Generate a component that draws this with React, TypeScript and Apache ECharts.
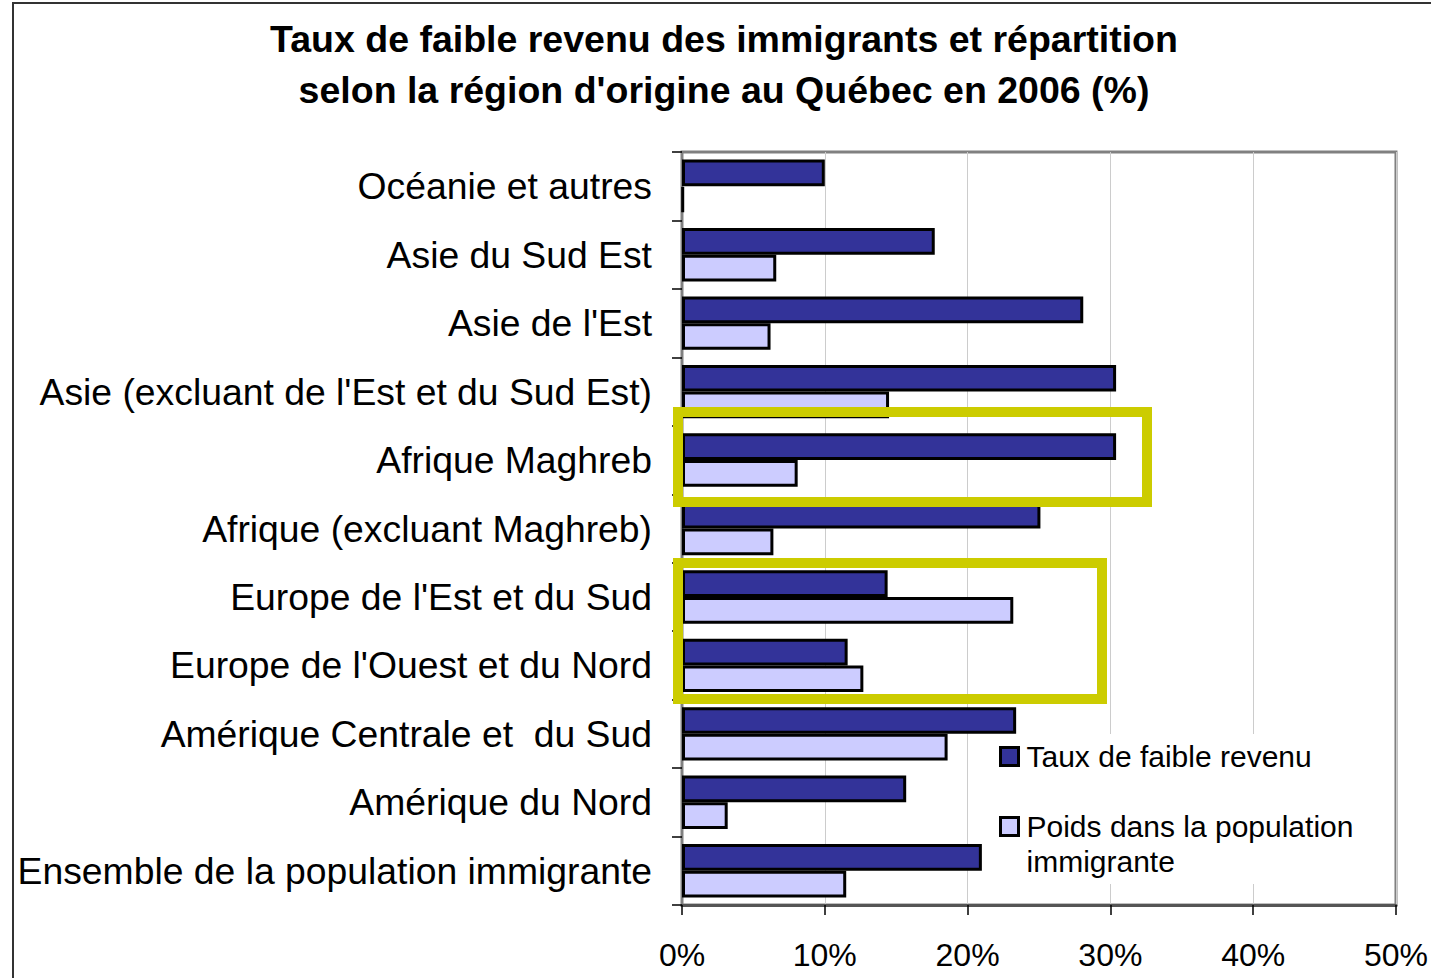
import React, { useEffect, useRef } from "react";
import * as echarts from "echarts";

const categories = [
  "Océanie et autres",
  "Asie du Sud Est",
  "Asie de l'Est",
  "Asie (excluant de l'Est et du Sud Est)",
  "Afrique Maghreb",
  "Afrique (excluant Maghreb)",
  "Europe de l'Est et du Sud",
  "Europe de l'Ouest et du Nord",
  "Amérique Centrale et  du Sud",
  "Amérique du Nord",
  "Ensemble de la population immigrante",
];

const seriesNames = ["Taux de faible revenu", "Poids dans la population immigrante"];

const tauxFaibleRevenu = [10.0, 17.7, 28.1, 30.4, 30.4, 25.1, 14.4, 11.6, 23.4, 15.7, 21.0];
const poidsPopulation = [0.1, 6.6, 6.2, 14.5, 8.1, 6.4, 23.2, 12.7, 18.6, 3.2, 11.5];

const xTicks = [0, 10, 20, 30, 40, 50];

const titleText =
  "Taux de faible revenu des immigrants et répartition\nselon la région d'origine au Québec en 2006 (%)";

const FONT = "'Liberation Sans', Arial, Helvetica, sans-serif";

export default function App() {
  const ref = useRef<HTMLDivElement>(null);

  useEffect(() => {
    if (!ref.current) return;
    const chart = echarts.init(ref.current, null, { renderer: "svg" });
    const option: any = {
      animation: false,
      backgroundColor: "#ffffff",
      textStyle: { fontFamily: FONT },
      title: {
        text: titleText,
        left: 719,
        top: 8,
        textAlign: "center",
        textStyle: {
          fontFamily: FONT,
          fontSize: 37.5,
          fontWeight: "bold",
          color: "#000",
          lineHeight: 51,
        },
      },
      grid: {
        left: 682,
        right: 35,
        top: 152,
        bottom: 73,
        show: true,
        borderColor: "#808080",
        borderWidth: 3,
        backgroundColor: "transparent",
      },
      legend: {
        orient: "vertical",
        left: 995,
        top: 734,
        padding: [5, 20, 5, 4],
        itemGap: 0,
        itemWidth: 18,
        itemHeight: 18,
        icon: "rect",
        backgroundColor: "#ffffff",
        itemStyle: { borderColor: "#000", borderWidth: 3 },
        textStyle: {
          fontFamily: FONT,
          fontSize: 30,
          lineHeight: 35,
          color: "#000",
          padding: [0, 0, 0, 3],
        },
        formatter: (name: string) =>
          name === seriesNames[1] ? " \nPoids dans la population\nimmigrante" : name,
        data: [seriesNames[0], seriesNames[1]],
      },
      xAxis: {
        type: "value",
        min: xTicks[0],
        max: xTicks[xTicks.length - 1],
        interval: 10,
        axisLine: { show: true, lineStyle: { color: "#555", width: 3 } },
        axisTick: { show: true, length: 10, lineStyle: { color: "#000", width: 1.5 } },
        axisLabel: {
          formatter: "{value}%",
          fontFamily: FONT,
          fontSize: 32,
          color: "#000",
          margin: 34,
        },
        splitLine: { show: true, lineStyle: { color: "#CCCCCC", width: 1 } },
      },
      yAxis: {
        type: "category",
        inverse: true,
        data: categories,
        axisLine: { show: true, lineStyle: { color: "#808080", width: 2 } },
        axisTick: { show: true, length: 10, lineStyle: { color: "#000", width: 1.5 } },
        axisLabel: {
          fontFamily: FONT,
          fontSize: 37.3,
          color: "#000",
          margin: 30,
        },
        splitLine: { show: false },
      },
      series: [
        {
          name: seriesNames[0],
          type: "bar",
          data: tauxFaibleRevenu,
          barGap: "0%",
          barCategoryGap: "22%",
          itemStyle: { color: "#333399", borderColor: "#000", borderWidth: 3 },
        },
        {
          name: seriesNames[1],
          type: "bar",
          data: poidsPopulation,
          barGap: "0%",
          barCategoryGap: "22%",
          itemStyle: { color: "#CCCCFF", borderColor: "#000", borderWidth: 3 },
        },
      ],
      graphic: [
        {
          type: "rect",
          z: 100,
          silent: true,
          shape: { x: 13, y: 3, width: 1450, height: 1000 },
          style: { fill: "none", stroke: "#333", lineWidth: 2 },
        },
        {
          type: "rect",
          z: 100,
          silent: true,
          shape: { x: 678, y: 412, width: 469, height: 90 },
          style: { fill: "none", stroke: "#CCCC00", lineWidth: 10 },
        },
        {
          type: "rect",
          z: 100,
          silent: true,
          shape: { x: 678, y: 563, width: 424, height: 136 },
          style: { fill: "none", stroke: "#CCCC00", lineWidth: 10 },
        },
      ],
    };
    chart.setOption(option);
    return () => chart.dispose();
  }, []);

  return (
    <div
      ref={ref}
      style={{ position: "absolute", left: 0, top: 0, width: 1431, height: 978 }}
    />
  );
}
